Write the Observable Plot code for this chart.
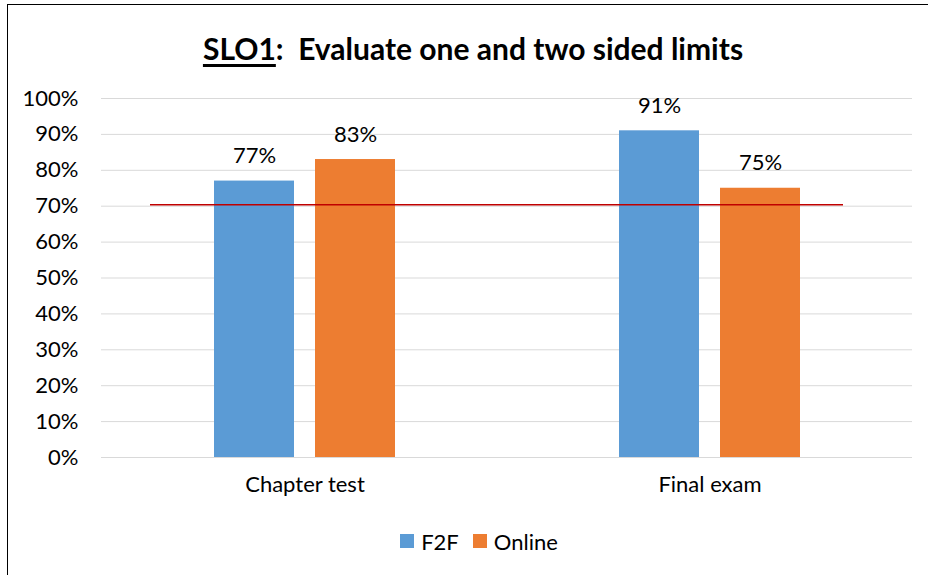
<!DOCTYPE html>
<html>
<head>
<meta charset="utf-8">
<script src="https://cdn.jsdelivr.net/npm/d3@7"></script>
<script src="https://cdn.jsdelivr.net/npm/@observablehq/plot@0.6"></script>
<style>
  html, body { margin: 0; padding: 0; background: #fff; }
  #wrap { position: relative; width: 928px; height: 575px; overflow: hidden; font-family: Lato, "Open Sans", sans-serif; }
  #frame { position: absolute; left: 7px; top: 4px; width: 1000px; height: 1000px; border: 1.5px solid #000; box-sizing: border-box; }
  #title { position: absolute; left: 0; width: 946px; top: 28px; line-height: 40px; text-align: center; font-size: 30px; font-weight: bold; white-space: pre; color: #000; }
  #title u { text-decoration-thickness: 2.5px; text-underline-offset: 4px; }
  #chart { position: absolute; left: 0; top: 70px; }
  #legend { position: absolute; left: 0; width: 958px; top: 527px; height: 28px; display: flex; justify-content: center; align-items: center; font-size: 22px; color: #000; }
  #legend span.item { display: inline-flex; align-items: center; margin: 0 7px; }
  #legend span.sw { display: inline-block; width: 14px; height: 14px; margin-right: 7px; }
</style>
</head>
<body>
<div id="wrap">
  <div id="frame"></div>
  <div id="title"><u>SLO1</u>:  Evaluate one and two sided limits</div>
  <div id="chart"></div>
  <div id="legend"></div>
</div>
<script>
const categories = ["Chapter test", "Final exam"];
const seriesNames = ["F2F", "Online"];
const f2fValues = [0.77, 0.91];
const onlineValues = [0.83, 0.75];
const seriesColors = ["#5b9bd5", "#ed7d31"];
const targetValue = [0.704];
const yTicks = [0, 0.1, 0.2, 0.3, 0.4, 0.5, 0.6, 0.7, 0.8, 0.9, 1.0];

const f2f = categories.map((c, i) => ({cat: c, series: "F2F", value: f2fValues[i]}));
const online = categories.map((c, i) => ({cat: c, series: "Online", value: onlineValues[i]}));

const font = 'Lato, "Open Sans", sans-serif';

const plot = Plot.plot({
  width: 928,
  height: 440,
  marginTop: 28,
  marginBottom: 53,
  marginLeft: 101,
  marginRight: 16,
  style: {fontFamily: font, fontSize: "22px", color: "#000", background: "transparent"},
  x: {domain: categories, padding: 0, label: null, tickSize: 0, tickPadding: 19},
  y: {domain: [0, 1], ticks: yTicks, tickFormat: d => Math.round(d * 100) + "%", label: null, tickSize: 0, tickPadding: 23},
  color: {domain: seriesNames, range: seriesColors},
  marks: [
    Plot.ruleY(yTicks, {stroke: "#d9d9d9", strokeWidth: 1}),
    Plot.barY(f2f, {x: "cat", y: "value", fill: "series", insetLeft: 112, insetRight: 213}),
    Plot.barY(online, {x: "cat", y: "value", fill: "series", insetLeft: 213, insetRight: 112}),
    Plot.text(f2f, {x: "cat", y: "value", text: d => Math.round(d.value * 100) + "%", dx: -50.5, dy: -25, fontSize: 22, fill: "#000"}),
    Plot.text(online, {x: "cat", y: "value", text: d => Math.round(d.value * 100) + "%", dx: 50.5, dy: -25, fontSize: 22, fill: "#000"}),
    Plot.ruleY(targetValue, {stroke: "#c00000", strokeWidth: 1.6, insetLeft: 49, insetRight: 69})
  ]
});
document.getElementById("chart").appendChild(plot);

const legend = document.getElementById("legend");
seriesNames.forEach((s, i) => {
  const item = document.createElement("span");
  item.className = "item";
  const sw = document.createElement("span");
  sw.className = "sw";
  sw.style.background = seriesColors[i];
  item.appendChild(sw);
  item.appendChild(document.createTextNode(s));
  legend.appendChild(item);
});
</script>
</body>
</html>
